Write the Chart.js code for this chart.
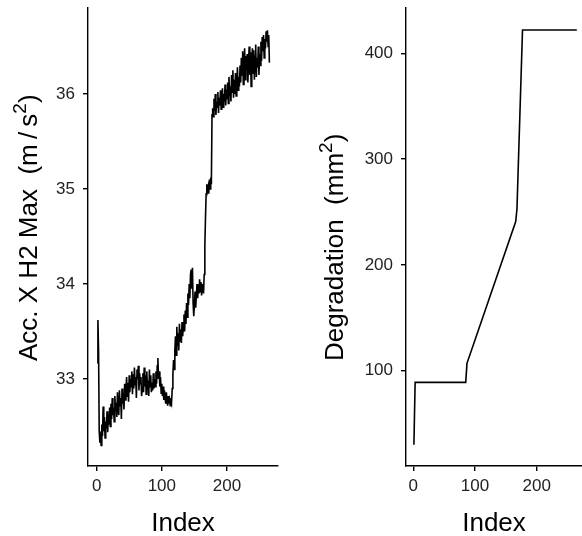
<!DOCTYPE html>
<html lang="en">
<head>
  <meta charset="UTF-8">
  <title>Acceleration and degradation by index</title>
  <script src="https://cdn.jsdelivr.net/npm/chart.js"></script>
  <style>
    html, body { margin: 0; padding: 0; background: #fff; overflow: hidden; }
    #accChart { position: absolute; left: 0; top: 0; }
    #degChart { position: absolute; left: 300px; top: 0; }
  </style>
</head>
<body>

  <canvas id="accChart" width="290" height="536"></canvas>
  <canvas id="degChart" width="282" height="536"></canvas>

  <script>
    // Acc. X H2 max per index (index 1..265)
    const accValues = [
      33.17, 33.62, 33.30, 32.45, 32.33, 32.38, 32.30, 32.52, 32.40, 32.71,
      32.45, 32.60, 32.38, 32.55, 32.48, 32.66, 32.44, 32.62, 32.52, 32.70,
      32.50, 32.74, 32.58, 32.80, 32.62, 32.70, 32.55, 32.82, 32.66, 32.75,
      32.60, 32.86, 32.70, 32.62, 32.88, 32.72, 32.80, 32.58, 32.90, 32.74,
      32.85, 32.68, 32.95, 32.78, 32.88, 33.02, 32.82, 32.96, 32.76, 33.04,
      32.86, 33.00, 32.92, 33.08, 32.84, 33.05, 32.90, 33.12, 32.94, 33.02,
      32.80, 33.10, 33.00, 33.14, 32.88, 33.06, 32.95, 33.02, 32.82, 32.90,
      33.06, 32.86, 33.12, 32.92, 33.04, 32.84, 33.08, 32.90, 32.98, 32.82,
      33.10, 32.92, 33.04, 32.86, 32.96, 32.88, 33.06, 32.90, 33.00, 32.92,
      33.08, 32.95, 33.14, 33.22, 33.00, 33.08, 32.92, 33.02, 32.85, 32.95,
      32.82, 32.92, 32.78, 32.88, 32.80, 32.74, 32.86, 32.76, 32.72, 32.82,
      32.74, 32.78, 32.72, 32.80, 32.76, 32.90, 33.05, 33.20, 33.10, 33.30,
      33.45, 33.25, 33.55, 33.35, 33.48, 33.30, 33.58, 33.40, 33.52, 33.38,
      33.60, 33.45, 33.55, 33.68, 33.50, 33.72, 33.58, 33.80, 33.65, 33.90,
      33.78, 34.00, 33.85, 34.10, 34.15, 33.95, 34.17, 33.80, 33.66, 33.78,
      33.92, 33.75, 33.88, 34.00, 33.85, 33.98, 33.90, 34.05, 33.92, 34.02,
      33.88, 34.00, 33.95, 33.90, 34.10, 34.40, 34.70, 34.95, 35.05, 34.98,
      35.02, 34.95, 35.10, 35.00, 35.12, 35.05, 35.78, 35.85, 35.76, 35.95,
      35.82, 36.00, 35.78, 35.92, 35.86, 36.02, 35.80, 35.96, 35.88, 36.04,
      35.84, 35.98, 36.06, 35.86, 36.00, 35.92, 36.10, 35.88, 36.05, 35.95,
      36.12, 35.90, 36.18, 35.98, 36.08, 35.92, 36.20, 36.02, 36.25, 35.96,
      36.15, 36.00, 36.22, 35.98, 36.10, 36.28, 36.04, 36.18, 36.08, 36.30,
      36.12, 36.38, 36.20, 36.45, 36.10, 36.32, 36.48, 36.15, 36.40, 36.25,
      36.42, 36.12, 36.35, 36.50, 36.20, 36.44, 36.08, 36.38, 36.48, 36.22,
      36.46, 36.15, 36.40, 36.52, 36.18, 36.38, 36.28, 36.50, 36.20, 36.42,
      36.30, 36.55, 36.35, 36.60, 36.45, 36.62, 36.38, 36.58, 36.48, 36.66,
      36.55, 36.67, 36.50, 36.62, 36.33
    ];

    // degradation measurements (piecewise linear between them)
    const degIndex  = [1, 3, 85, 87, 166, 168, 177, 265];
    const degValues = [30, 89, 89, 107, 241, 253, 422, 422];

    const accTicks = [33, 34, 35, 36];
    const degTicks = [100, 200, 300, 400];
    const indexTicks = [0, 100, 200];

    const FONT = "'Liberation Sans', Arial, Helvetica, sans-serif";

    // rotated y title with a raised "2" for the unit
    const yTitlePlugin = {
      id: 'yTitle',
      afterDraw(chart, args, opts) {
        const ctx = chart.ctx;
        ctx.save();
        ctx.translate(opts.x, opts.y);
        ctx.rotate(-Math.PI / 2);
        ctx.fillStyle = '#000';
        ctx.textAlign = 'left';
        ctx.textBaseline = 'alphabetic';
        let pos = 0;
        opts.parts.forEach(p => {
          ctx.font = (p.size || 26) + 'px ' + FONT;
          ctx.fillText(p.text, pos, -(p.rise || 0));
          pos += ctx.measureText(p.text).width;
        });
        ctx.restore();
      }
    };

    function axisOpts(min, max, tickValues, extra) {
      return Object.assign({
        type: 'linear',
        min: min,
        max: max,
        afterBuildTicks: axis => { axis.ticks = tickValues.map(v => ({ value: v })); },
        border: { display: true, color: '#000', width: 1.4 },
        grid: { drawOnChartArea: false, drawTicks: true, tickLength: 5, color: '#000', lineWidth: 1.4 },
        ticks: { color: '#222', font: { family: FONT, size: 17 }, padding: 5, maxRotation: 0, autoSkip: false }
      }, extra);
    }

    function makePanel(id, points, xRange, yRange, yTickValues, titleOpts, yWidth, padRight) {
      return new Chart(document.getElementById(id), {
        type: 'line',
        data: {
          datasets: [{
            data: points,
            borderColor: '#000',
            borderWidth: 1.6,
            pointRadius: 0,
            fill: false,
            tension: 0
          }]
        },
        options: {
          responsive: false,
          animation: false,
          layout: { padding: { top: 8, right: padRight, left: 0, bottom: 0 } },
          plugins: { legend: { display: false }, tooltip: { enabled: false }, yTitle: titleOpts },
          scales: {
            x: axisOpts(xRange[0], xRange[1], indexTicks, {
              afterFit: axis => { axis.height = 70; axis.paddingLeft = 0; axis.paddingRight = 0; },
              title: { display: true, text: 'Index', color: '#000', font: { family: FONT, size: 26 }, padding: { top: 0, bottom: -3 } }
            }),
            y: axisOpts(yRange[0], yRange[1], yTickValues, {
              afterFit: axis => { axis.width = yWidth; axis.paddingTop = 0; axis.paddingBottom = 0; },
              ticks: { color: '#222', font: { family: FONT, size: 17 }, padding: 8 }
            })
          }
        },
        plugins: [yTitlePlugin]
      });
    }

    makePanel('accChart',
      accValues.map((v, i) => ({ x: i + 1, y: v })),
      [-13.2, 278.2], [32.084, 36.905], accTicks,
      { x: 37, y: 361, parts: [
        { text: 'Acc. X H2 Max  (m\u2009/\u2009s' },
        { text: '2', size: 19, rise: 11 },
        { text: ')' }
      ] },
      88, 12);

    makePanel('degChart',
      degIndex.map((x, i) => ({ x: x, y: degValues[i] })),
      [-11.8, 273.4], [10, 442.8], degTicks,
      { x: 43, y: 361, parts: [
        { text: 'Degradation  (mm' },
        { text: '2', size: 19, rise: 11 },
        { text: ')' }
      ] },
      106, 0);
  </script>

</body>
</html>
